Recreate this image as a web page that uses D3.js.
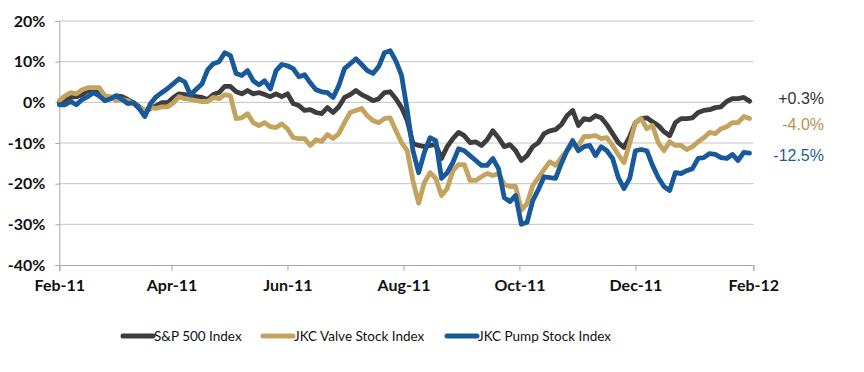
<!DOCTYPE html>
<html>
<head>
<meta charset="utf-8">
<script src="https://cdn.jsdelivr.net/npm/d3@7"></script>
<style>
  body { margin: 0; background: #fff; }
  #chart { width: 864px; height: 372px; }
  .tick text { font-family: "Gill Sans", "Gill Sans MT", Lato, sans-serif; font-weight: 700; font-size: 16px; fill: #111; }
</style>
</head>
<body>
<div id="chart"></div>
<script>
const width = 864;
const height = 372;

// % change since Feb-11, one value every 3 days
let spValues = [0.0,0.7,1.2,1.4,1.9,2.9,2.9,2.4,0.9,1.0,
  1.6,1.4,0.7,-0.1,-1.1,-2.3,-1.5,-0.8,-0.1,-0.1,
  1.2,2.1,1.9,1.6,1.4,1.2,0.7,1.9,2.4,3.9,
  3.9,2.6,2.1,2.9,2.1,2.4,1.9,1.4,2.1,1.4,
  2.1,-0.3,-0.8,-2.0,-1.8,-2.5,-2.8,-1.3,-2.5,-1.1,
  1.2,1.9,2.9,1.9,1.2,0.4,0.9,2.4,2.6,0.9,
  -1.3,-4.5,-10.1,-10.6,-10.9,-10.6,-10.4,-13.8,-10.9,-8.9,
  -7.4,-8.2,-9.9,-9.7,-10.6,-9.2,-7.0,-8.7,-10.9,-10.4,
  -11.9,-14.3,-13.1,-10.9,-9.9,-7.7,-7.0,-6.7,-5.5,-3.3,
  -2.0,-5.7,-4.0,-4.3,-3.3,-3.8,-5.5,-7.7,-9.9,-11.1,
  -8.4,-5.0,-4.0,-3.8,-4.8,-5.7,-7.2,-8.2,-5.0,-4.0,
  -4.0,-3.8,-2.5,-2.0,-1.8,-1.3,-1.1,0.2,0.9,0.9,
  1.2,0.3];

let valveValues = [0.4,1.6,2.4,2.1,3.1,3.6,3.6,3.6,1.6,1.4,
  0.4,0.7,0.4,-0.3,-1.3,-2.0,-1.3,-1.5,-1.1,-1.1,
  -0.1,1.4,0.9,0.7,0.4,0.2,0.2,1.2,0.9,1.9,
  1.6,-4.0,-3.8,-2.8,-5.0,-5.7,-5.0,-6.0,-6.2,-5.3,
  -6.5,-8.7,-8.9,-8.9,-10.6,-9.2,-9.6,-7.9,-8.9,-7.7,
  -5.0,-2.5,-2.0,-1.5,-3.3,-4.5,-5.0,-4.0,-3.8,-6.9,
  -9.9,-11.9,-19.3,-24.8,-19.7,-17.3,-18.7,-22.9,-21.2,-16.8,
  -15.3,-15.3,-19.2,-19.2,-18.3,-17.5,-18.0,-17.5,-20.2,-20.7,
  -20.7,-26.5,-24.9,-20.5,-18.5,-16.5,-14.6,-15.5,-13.6,-11.9,
  -10.4,-10.6,-8.4,-8.4,-8.2,-8.9,-8.7,-10.6,-12.9,-14.8,
  -10.1,-5.0,-4.0,-6.5,-5.7,-9.9,-11.9,-9.7,-10.6,-10.6,
  -11.6,-10.9,-9.7,-8.7,-7.4,-7.7,-6.5,-6.0,-5.0,-5.0,
  -3.5,-4.0];

let pumpValues = [-0.6,-0.6,0.2,-0.6,0.7,1.4,2.4,1.6,0.4,0.9,
  1.6,0.7,-0.3,-0.1,-1.5,-3.5,-0.3,1.4,2.4,3.4,
  4.6,5.8,5.0,1.8,3.2,4.5,8.0,9.5,10.0,12.2,
  11.5,7.1,6.6,7.8,5.3,4.3,5.3,3.3,7.8,9.3,
  9.0,8.3,6.3,6.8,4.8,3.1,2.6,2.4,1.2,4.1,
  8.3,9.5,10.7,9.3,7.8,7.1,8.8,12.2,12.7,10.2,
  6.6,-2.0,-11.9,-17.3,-12.3,-8.7,-9.4,-18.7,-17.3,-14.8,
  -11.4,-11.9,-13.1,-14.3,-15.5,-15.5,-13.8,-16.3,-23.4,-24.4,
  -22.9,-30.0,-29.5,-24.2,-21.4,-18.3,-18.5,-18.7,-15.1,-11.9,
  -9.4,-11.9,-10.9,-10.6,-13.1,-10.9,-11.9,-13.8,-18.5,-21.2,
  -18.7,-11.9,-11.6,-11.9,-15.5,-18.5,-20.7,-21.7,-17.3,-17.5,
  -16.8,-16.3,-13.8,-13.6,-12.6,-12.8,-13.6,-13.8,-12.8,-14.3,
  -12.3,-12.5];

let seriesNames = ["S&P 500 Index", "JKC Valve Stock Index", "JKC Pump Stock Index"];
let seriesColors = ["#3d3d3d", "#c4a35e", "#17599a"];
let endLabels = ["+0.3%", "-4.0%", "-12.5%"];
let labelColors = ["#333333", "#b39350", "#1f5c99"];
let yTicks = [20, 10, 0, -10, -20, -30, -40];
let xTicks = ["2011-02-01", "2011-04-01", "2011-06-01", "2011-08-01", "2011-10-01", "2011-12-01", "2012-02-01"];

let parseDay = d3.timeParse("%Y-%m-%d");
let startDate = new Date(2011, 1, 1);
let endDate = new Date(2012, 1, 1);
let dates = spValues.map((d, i) => d3.timeDay.offset(startDate, i * 3));

let series = [spValues, valveValues, pumpValues].map((values, k) => ({
  name: seriesNames[k],
  color: seriesColors[k],
  label: endLabels[k],
  labelColor: labelColors[k],
  points: values.map((v, i) => ({ date: dates[i], value: v })),
}));

let x = d3.scaleTime().domain([startDate, endDate]).range([59.3, 753.3]);
let y = d3.scaleLinear().domain([-40, 20]).range([265, 21]);

const svg = d3
  .select("#chart")
  .append("svg")
  .attr("width", width)
  .attr("height", height);

// gridlines
svg
  .append("g")
  .selectAll("line")
  .data(yTicks.filter((t) => t > -40))
  .enter()
  .append("line")
  .attr("x1", x.range()[0])
  .attr("x2", x.range()[1])
  .attr("y1", (d) => y(d))
  .attr("y2", (d) => y(d))
  .attr("stroke", "#c3c3c3")
  .attr("stroke-width", 1);

// y axis
let yAxis = svg
  .append("g")
  .attr("transform", `translate(${x.range()[0]},0)`)
  .call(
    d3.axisLeft(y).tickValues(yTicks).tickSize(4).tickPadding(10)
      .tickFormat((d) => d + "%")
  );
yAxis.selectAll("line, path").attr("stroke", "#a9a9a9");

// x axis
let xAxis = svg
  .append("g")
  .attr("transform", `translate(0,${y(-40)})`)
  .call(
    d3.axisBottom(x).tickValues(xTicks.map(parseDay)).tickSize(6).tickPadding(9)
      .tickFormat(d3.timeFormat("%b-%y"))
  );
xAxis.selectAll("line, path").attr("stroke", "#a9a9a9");

// lines
let line = d3
  .line()
  .x((d) => x(d.date))
  .y((d) => y(d.value));

svg
  .append("g")
  .selectAll("path")
  .data(series)
  .enter()
  .append("path")
  .attr("fill", "none")
  .attr("stroke", (d) => d.color)
  .attr("stroke-width", 4.8)
  .attr("stroke-linejoin", "round")
  .attr("stroke-linecap", "round")
  .attr("d", (d) => line(d.points));

// end labels
let labelShift = [-3, 6, 2];
svg
  .append("g")
  .selectAll("text")
  .data(series)
  .enter()
  .append("text")
  .attr("x", 824)
  .attr("y", (d, i) => y(d.points[d.points.length - 1].value) + labelShift[i])
  .attr("dy", "0.35em")
  .attr("text-anchor", "end")
  .attr("font-family", "Arial, 'Liberation Sans', sans-serif")
  .attr("font-size", 16)
  .attr("fill", (d) => d.labelColor)
  .text((d) => d.label);

// legend
let legendX = [123, 263, 447];
let legend = svg
  .append("g")
  .selectAll("g")
  .data(series)
  .enter()
  .append("g")
  .attr("transform", (d, i) => `translate(${legendX[i]},336)`);

legend
  .append("line")
  .attr("x1", 0)
  .attr("x2", 30)
  .attr("stroke", (d) => d.color)
  .attr("stroke-width", 5)
  .attr("stroke-linecap", "round");

legend
  .append("text")
  .attr("x", 31)
  .attr("dy", "0.35em")
  .attr("font-family", "'Gill Sans', 'Gill Sans MT', Lato, sans-serif")
  .attr("font-size", 13.5)
  .attr("fill", "#111")
  .text((d) => d.name);
</script>
</body>
</html>
